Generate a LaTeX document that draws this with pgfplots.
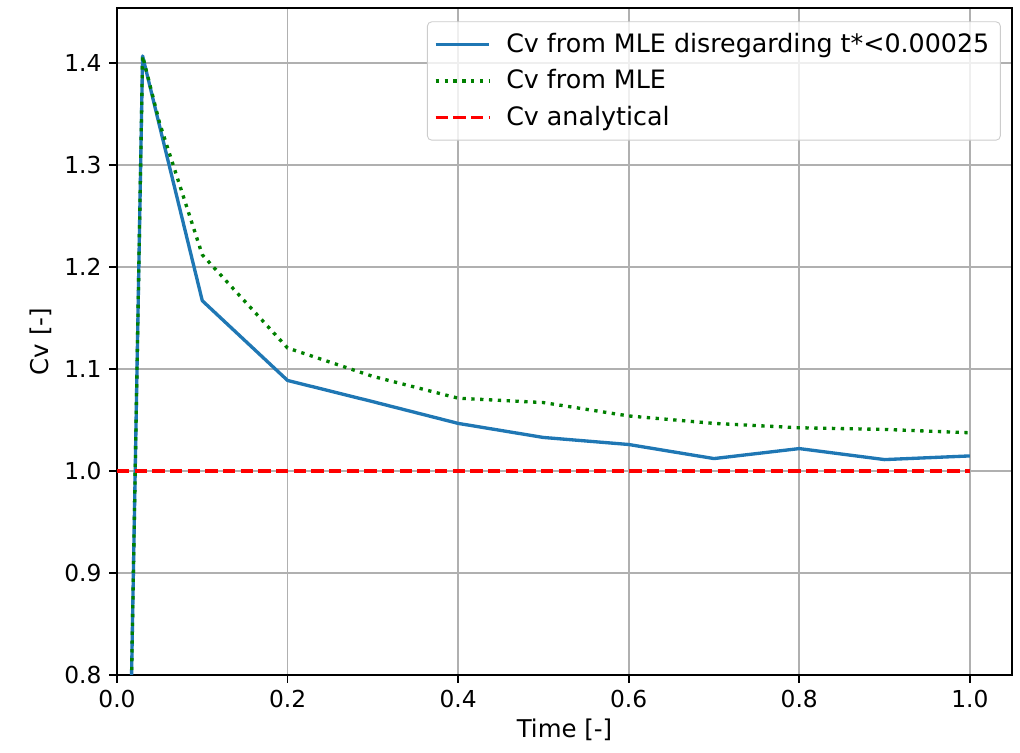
\documentclass[border=0pt]{standalone}
\usepackage{pgfplots}
\pgfplotsset{compat=1.18}
\usepackage{fontspec}
\setmainfont{DejaVu Sans}
\definecolor{mplblue}{HTML}{1F77B4}
\definecolor{mplgreen}{HTML}{008000}
\definecolor{mplred}{HTML}{FF0000}
\definecolor{gridgray}{HTML}{B0B0B0}
\begin{document}
\begin{tikzpicture}
\begin{axis}[
  scale only axis,
  width=402.75pt, height=300.15pt,
  xmin=0, xmax=1.0495, ymin=0.8, ymax=1.454,
  xtick={0,0.2,...,1.0}, ytick={0.8,0.9,...,1.41},
  /pgf/number format/assume math mode=true,
  /pgf/number format/.cd, fixed, fixed zerofill, precision=1, /pgfplots/.cd,
  tick label style={font=\fontsize{10.5}{12.5}\selectfont},
  label style={font=\fontsize{11}{13}\selectfont},
  xlabel={Time [-]}, ylabel={Cv [-]},
  xlabel style={yshift=2pt},
  ylabel style={yshift=-1pt},
  grid=major,
  major grid style={gridgray, line width=0.8pt},
  axis line style={line width=0.8pt},
  tick style={black, line width=0.8pt},
  tick align=outside, major tick length=3.5pt,
  xtick pos=bottom, ytick pos=left,
  clip=true,
  legend cell align=left,
  legend style={at={(rel axis cs:0.9875,0.98)}, anchor=north east,
    draw=black!20, rounded corners=2pt, fill=white, fill opacity=0.8, text opacity=1,
    font=\fontsize{11.4}{13.7}\selectfont, row sep=2.4pt, inner xsep=3pt, inner ysep=3pt},
  legend image code/.code={\draw[#1] (0pt,0pt) -- (24pt,0pt); \path (29pt,0pt);},
]
\addplot[mplblue, line width=1.5pt, line join=round] coordinates {
(0.01,0.467) (0.03,1.407) (0.05,1.338) (0.1,1.167) (0.2,1.0888) (0.3,1.068)
(0.4,1.0467) (0.5,1.0329) (0.6,1.026) (0.7,1.0122) (0.8,1.022) (0.9,1.0112) (1.0,1.0148)};
\addlegendentry{Cv from MLE disregarding t*<0.00025}
\addplot[mplgreen, line width=1.5pt, line join=round, dash pattern=on 1.5pt off 2.475pt] coordinates {
(0.01,0.467) (0.03,1.407) (0.05,1.341) (0.1,1.212) (0.2,1.1206) (0.3,1.0928)
(0.4,1.0714) (0.5,1.0671) (0.6,1.054) (0.7,1.0467) (0.8,1.0424) (0.9,1.0408) (1.0,1.0375)};
\addlegendentry{Cv from MLE}
\addplot[mplred, line width=1.5pt, dash pattern=on 5.55pt off 2.4pt] coordinates {
(0,1.0) (1.0,1.0)};
\addlegendentry{Cv analytical}
\end{axis}
\path (current axis.south west) ++(-52.65pt,-35.1pt) coordinate (bbsw);
\path (current axis.north east) ++(3.6pt,3.6pt) coordinate (bbne);
\useasboundingbox (bbsw) rectangle (bbne);
\end{tikzpicture}
\end{document}
